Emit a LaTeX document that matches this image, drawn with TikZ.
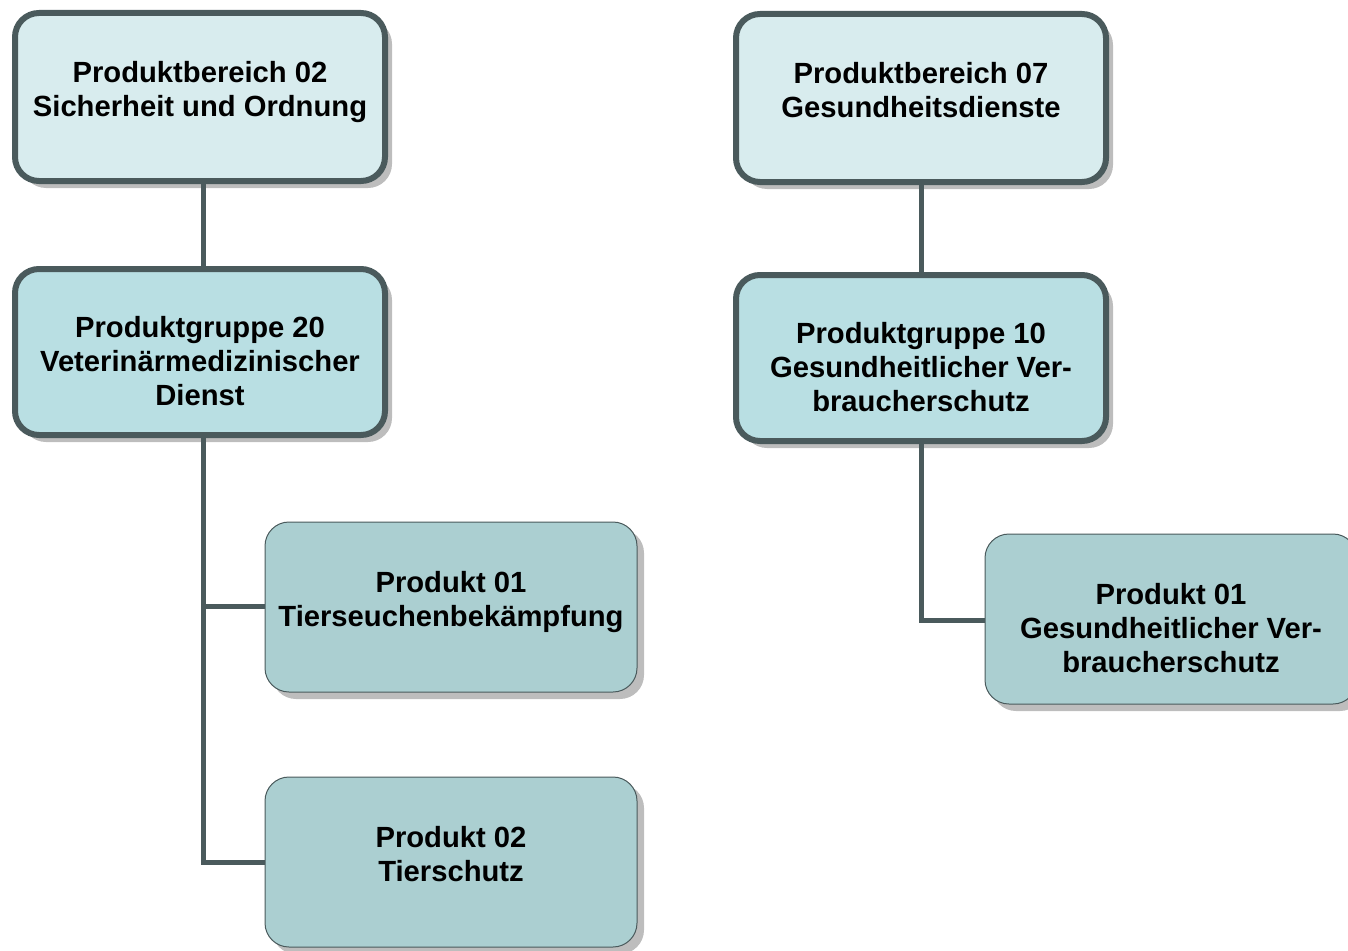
\documentclass[tikz,border=0pt]{standalone}
\usepackage{fontspec}
\setmainfont{Liberation Sans}
\usetikzlibrary{shadows}
\definecolor{lineC}{HTML}{4A5A5C}
\definecolor{fillTop}{HTML}{D8ECEE}
\definecolor{fillGrp}{HTML}{B9DFE3}
\definecolor{fillProd}{HTML}{ABCFD1}
\definecolor{shadowC}{HTML}{BDBDBD}
\tikzset{
  boxbase/.style={rounded corners=24pt,
    drop shadow={shadow xshift=7pt, shadow yshift=-7pt, fill=shadowC, opacity=1}},
  topbox/.style={boxbase, draw=lineC, line width=6pt, fill=fillTop, minimum width=370pt, minimum height=168pt},
  grpbox/.style={boxbase, draw=lineC, line width=6pt, fill=fillGrp, minimum width=370pt, minimum height=166pt},
  prodbox/.style={boxbase, draw=lineC, line width=1pt, fill=fillProd, minimum width=372pt, minimum height=170pt},
  boxtext/.style={anchor=north, inner sep=0pt, yshift=36pt, align=center, font=\bfseries\fontsize{29.2}{34}\selectfont},
  conn/.style={draw=lineC, line width=5pt}
}
\begin{document}
\begin{tikzpicture}[x=1pt,y=-1pt]
\useasboundingbox (0,0) rectangle (1348,950);
\coordinate (lv) at (203,862);
\coordinate (lbr1) at (203,606);
\coordinate (rv) at (921,620);
\node[topbox] (pb02) at (200,97) {};
\node[grpbox] (pg20) at (200,352) {};
\node[prodbox] (p01) at (451,607) {};
\node[prodbox] (p02) at (451,862) {};
\node[topbox] (pb07) at (921,98) {};
\node[grpbox] (pg10) at (921,358) {};
\node[prodbox] (p01r) at (1171,619) {};
\node[boxtext] (pb02t) at (pb02.center) {Produktbereich 02\\Sicherheit und Ordnung};
\node[boxtext] (pg20t) at (pg20.center) {Produktgruppe 20\\Veterinärmedizinischer\\Dienst};
\node[boxtext] (p01t) at (p01.center) {Produkt 01\\Tierseuchenbekämpfung};
\node[boxtext] (p02t) at (p02.center) {Produkt 02\\Tierschutz};
\node[boxtext] (pb07t) at (pb07.center) {Produktbereich 07\\Gesundheitsdienste};
\node[boxtext] (pg10t) at (pg10.center) {Produktgruppe 10\\Gesundheitlicher Ver-\\braucherschutz};
\node[boxtext] (p01rt) at (p01r.center) {Produkt 01\\Gesundheitlicher Ver-\\braucherschutz};
\path[conn] (pb02.south -| lv) -- (pg20.north -| lv);
\path[conn] (pg20.south -| lv) -- (lv) -- (p02.west);
\path[conn] (lbr1) -- (p01.west |- lbr1);
\path[conn] (pb07.south) -- (pg10.north);
\path[conn] (pg10.south) -- (rv) -- (p01r.west |- rv);
\end{tikzpicture}
\end{document}
